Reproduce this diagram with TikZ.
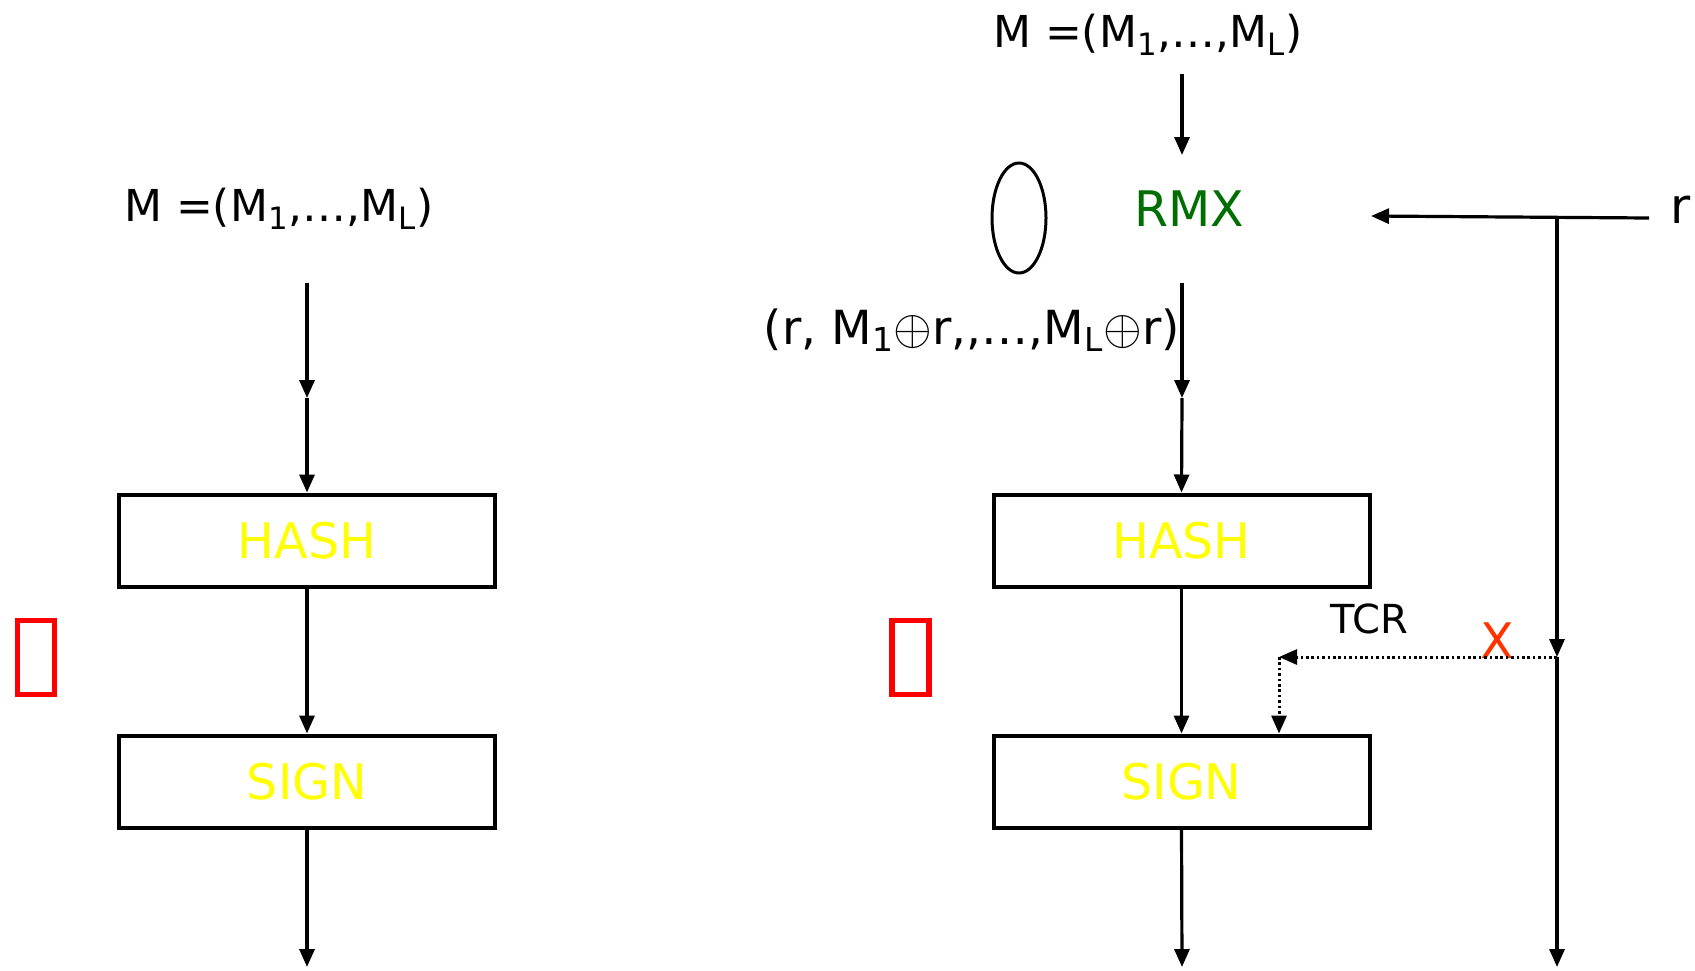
\documentclass[tikz,border=0pt]{standalone}
\usepackage{fontspec}
\setmainfont{DejaVu Sans}
\usetikzlibrary{arrows.meta,shapes.geometric}
\definecolor{rmxgreen}{RGB}{0,110,0}
\definecolor{xred}{RGB}{255,51,0}
\definecolor{hashyellow}{RGB}{255,255,0}
\begin{document}
\begin{tikzpicture}[x=0.5pt,y=-0.5pt,
  conn/.style={line width=1.6pt,-{Triangle[length=9pt,width=7.5pt]}},
  dotline/.style={line width=1.5pt,dash pattern=on 1.3pt off 1.4pt,-{Triangle[length=9pt,width=7.5pt]}},
  box/.style={draw,line width=2pt,minimum width=188pt,minimum height=46pt,inner sep=0pt,font=\fontsize{24.5}{28}\selectfont,text=hashyellow},
  lbl/.style={inner sep=0pt,font=\fontsize{22}{26}\selectfont},
  big/.style={inner sep=0pt,font=\fontsize{24.5}{28}\selectfont},
  tofu/.style={draw=red,line width=2.8pt,minimum width=18.5pt,minimum height=37pt,inner sep=0pt}]
\useasboundingbox (0,0) rectangle (1695,970);
% ---------- left column ----------
\node[lbl] (m1) at (279,209) {M =(M\textsubscript{1},…,M\textsubscript{L})};
\node[box] (hash1) at (307,540.5) {HASH};
\node[box] (sign1) at (307,781.5) {SIGN};
\node[tofu] (t1) at (36,657.5) {};
\coordinate (a1s) at (307,283);
\coordinate (a1m) at (307,398);
\coordinate (o1) at (307,967);
\draw[conn] (a1s) -- (a1m);
\draw[conn] (a1m) -- (hash1.north);
\draw[conn] (hash1.south) -- (sign1.north);
\draw[conn] (sign1.south) -- (o1);
% ---------- right column ----------
\node[lbl] (m2) at (1148,35) {M =(M\textsubscript{1},…,M\textsubscript{L})};
\node[big,text=rmxgreen] (rmx) at (1189,209) {RMX};
\node[draw,ellipse,line width=1.5pt,minimum width=27pt,minimum height=55pt,inner sep=0pt] (oval) at (1019,218) {};
\node[inner sep=0pt,font=\fontsize{23.5}{27}\selectfont] (mix) at (972,330) {(r, M\textsubscript{1}\ensuremath{\oplus}r,{,}…,M\textsubscript{L}\ensuremath{\oplus}r)};
\node[box] (hash2) at (1181.5,540.5) {HASH};
\node[box] (sign2) at (1181.5,781.5) {SIGN};
\node[tofu] (t2) at (910.5,657.5) {};
\node[big] (r) at (1681,210) {r};
\node[inner sep=0pt,font=\fontsize{20}{24}\selectfont] (tcr) at (1369,619) {TCR};
\node[big,text=xred] (x) at (1497,641) {X};
\coordinate (a2s) at (1182,74);
\coordinate (a2e) at (1182,155);
\coordinate (b2s) at (1182,283);
\coordinate (b2m) at (1182,398);
\coordinate (o2) at (1182,967);
\coordinate (rs) at (1649,218);
\coordinate (rt) at (1371,216);
\coordinate (rj) at (1557,218);
\coordinate (vm) at (1557,657);
\coordinate (vb) at (1557,967);
\coordinate (dc) at (1279,657);
\draw[conn] (a2s) -- (a2e);
\draw[conn] (b2s) -- (b2m);
\draw[conn] (b2m) -- (hash2.north);
\draw[conn] (hash2.south) -- (sign2.north);
\draw[conn] (sign2.south) -- (o2);
\draw[conn] (rs) -- (rt);
\draw[conn] (rj) -- (vm);
\draw[conn] (vm) -- (vb);
\draw[dotline] (vm) -- (dc);
\draw[dotline] (dc) -- (dc |- sign2.north);
\end{tikzpicture}
\end{document}
